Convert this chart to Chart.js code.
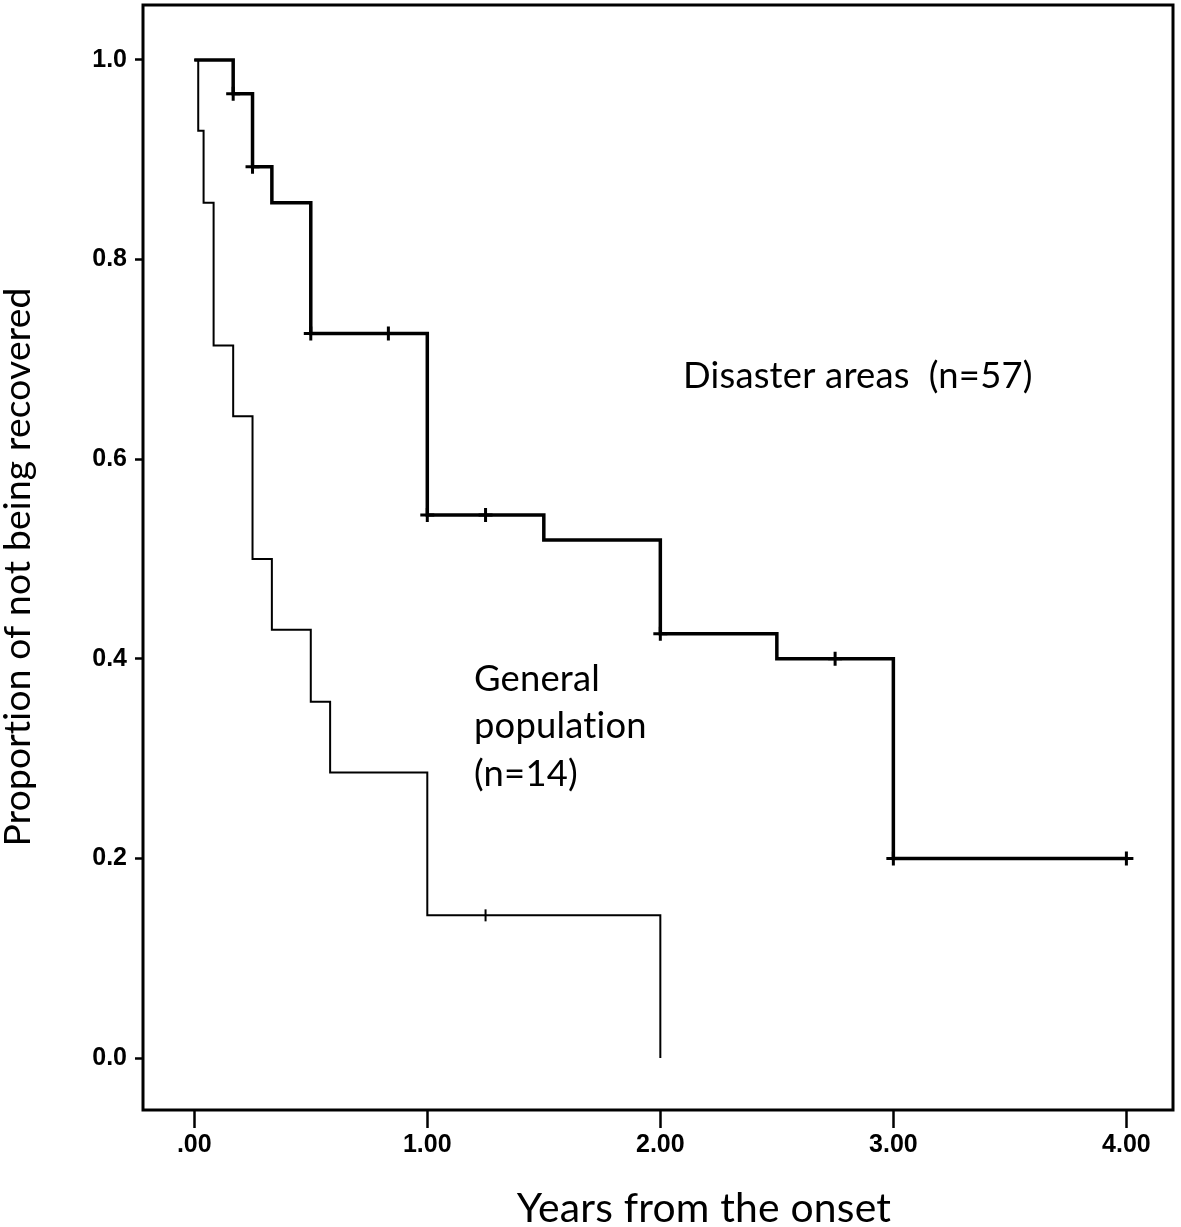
<!DOCTYPE html>
<html>
<head>
<meta charset="utf-8">
<script src="https://cdn.jsdelivr.net/npm/chart.js@4/dist/chart.umd.min.js"></script>
<style>
  html, body { margin: 0; padding: 0; background: #fff; }
  #wrap { width: 1181px; height: 1227px; }
</style>
</head>
<body>
<div id="wrap"><canvas id="c" width="1181" height="1227"></canvas></div>
<script>
// ---- data ----
const xTicks = [0, 1, 2, 3, 4];
const xTickLabels = ['.00', '1.00', '2.00', '3.00', '4.00'];
const yTicks = [0, 0.2, 0.4, 0.6, 0.8, 1.0];
const yTickLabels = ['0.0', '0.2', '0.4', '0.6', '0.8', '1.0'];

const disasterTimes = [0, 0.167, 0.25, 0.333, 0.5, 1.0, 1.5, 2.0, 2.5, 3.0, 4.0];
const disasterSurv  = [1.0, 0.966, 0.893, 0.857, 0.726, 0.544, 0.519, 0.425, 0.400, 0.200, 0.200];
const disasterCensorTimes = [0.167, 0.25, 0.5, 0.833, 1.0, 1.25, 2.0, 2.75, 3.0, 4.0];
const disasterCensorSurv  = [0.966, 0.893, 0.726, 0.726, 0.544, 0.544, 0.425, 0.400, 0.200, 0.200];

const generalTimes = [0, 0.017, 0.04, 0.083, 0.167, 0.25, 0.333, 0.5, 0.583, 1.0, 2.0];
const generalSurv  = [1.0, 0.929, 0.857, 0.714, 0.643, 0.500, 0.429, 0.357, 0.286, 0.143, 0.0];
const generalCensorTimes = [1.25];
const generalCensorSurv  = [0.143];

const xTitle = 'Years from the onset';
const yTitle = 'Proportion of not being recovered';
const disasterLabel = ['Disaster areas  (n=57)'];
const generalLabel = ['General', 'population', '(n=14)'];

// ---- helpers ----
const pts = (xs, ys) => xs.map((x, i) => ({ x: x, y: ys[i] }));
const TEXT_FONT = 'Lato, "Open Sans", sans-serif';

function setNoLigatures(ctx) {
  try { ctx.letterSpacing = '0.2px'; } catch (e) {}
  try { ctx.textRendering = 'optimizeSpeed'; } catch (e) {}
}

function fitSize(ctx, text, width) {
  ctx.font = '100px ' + TEXT_FONT;
  return 100 * width / ctx.measureText(text).width;
}

const textPlugin = {
  id: 'kmText',
  afterDraw(chart) {
    const ctx = chart.ctx;
    const a = chart.chartArea;
    ctx.save();
    // frame
    ctx.strokeStyle = '#000';
    ctx.lineWidth = 3;
    ctx.strokeRect(a.left, a.top, a.right - a.left, a.bottom - a.top);

    ctx.fillStyle = '#000';
    ctx.textBaseline = 'alphabetic';
    setNoLigatures(ctx);

    // annotations
    const annSize = fitSize(ctx, disasterLabel[0], 347);
    ctx.font = annSize + 'px ' + TEXT_FONT;
    ctx.textAlign = 'left';
    ctx.fillText(disasterLabel[0], 683, 388);
    const genBase = [691, 738, 786];
    generalLabel.forEach((t, i) => ctx.fillText(t, 474, genBase[i]));

    // x title
    const xs = fitSize(ctx, xTitle, 372);
    ctx.font = xs + 'px ' + TEXT_FONT;
    ctx.textAlign = 'center';
    ctx.fillText(xTitle, 704, 1222);

    // y title
    const ys = fitSize(ctx, yTitle, 555);
    ctx.font = ys + 'px ' + TEXT_FONT;
    ctx.translate(30, 567);
    ctx.rotate(-Math.PI / 2);
    ctx.textAlign = 'center';
    ctx.fillText(yTitle, 0, 0);
    ctx.restore();
  }
};

const tickFont = { family: '"Liberation Sans", Arial, sans-serif', weight: 'bold', size: 25 };

new Chart(document.getElementById('c'), {
  type: 'line',
  data: {
    datasets: [
      {
        label: 'Disaster areas (n=57)',
        data: pts(disasterTimes, disasterSurv),
        stepped: 'before',
        borderColor: '#000',
        borderWidth: 3.5,
        pointRadius: 0,
        fill: false
      },
      {
        label: 'Disaster areas censored',
        type: 'scatter',
        data: pts(disasterCensorTimes, disasterCensorSurv),
        pointStyle: 'cross',
        pointRadius: 7,
        borderColor: '#000',
        borderWidth: 3,
        showLine: false
      },
      {
        label: 'General population (n=14)',
        data: pts(generalTimes, generalSurv),
        stepped: 'before',
        borderColor: '#000',
        borderWidth: 2,
        pointRadius: 0,
        fill: false
      },
      {
        label: 'General population censored',
        type: 'scatter',
        data: pts(generalCensorTimes, generalCensorSurv),
        pointStyle: 'line',
        rotation: 90,
        pointRadius: 6,
        borderColor: '#000',
        borderWidth: 2,
        showLine: false
      }
    ]
  },
  options: {
    responsive: false,
    animation: false,
    devicePixelRatio: 1,
    layout: { autoPadding: false, padding: { top: 5, right: 8, left: 0, bottom: 0 } },
    plugins: { legend: { display: false }, tooltip: { enabled: false } },
    scales: {
      x: {
        type: 'linear',
        min: -0.22,
        max: 4.2,
        afterBuildTicks: s => { s.ticks = xTicks.map(v => ({ value: v })); },
        afterFit: s => { s.height = 117; s.paddingLeft = 0; s.paddingRight = 0; },
        ticks: {
          callback: v => xTickLabels[xTicks.indexOf(v)],
          font: tickFont,
          color: '#000',
          padding: 2,
          maxRotation: 0,
          autoSkip: false
        },
        grid: { drawOnChartArea: false, drawTicks: true, tickLength: 18, tickWidth: 2.5, tickColor: '#000' },
        border: { display: false }
      },
      y: {
        type: 'linear',
        min: -0.052,
        max: 1.055,
        afterBuildTicks: s => { s.ticks = yTicks.map(v => ({ value: v })); },
        afterFit: s => { s.width = 143; s.paddingTop = 0; s.paddingBottom = 0; },
        ticks: {
          callback: v => yTickLabels[yTicks.indexOf(v)],
          font: tickFont,
          color: '#000',
          padding: 8,
          autoSkip: false
        },
        grid: { drawOnChartArea: false, drawTicks: true, tickLength: 8, tickWidth: 2.5, tickColor: '#000' },
        border: { display: false }
      }
    }
  },
  plugins: [textPlugin]
});
</script>
</body>
</html>
